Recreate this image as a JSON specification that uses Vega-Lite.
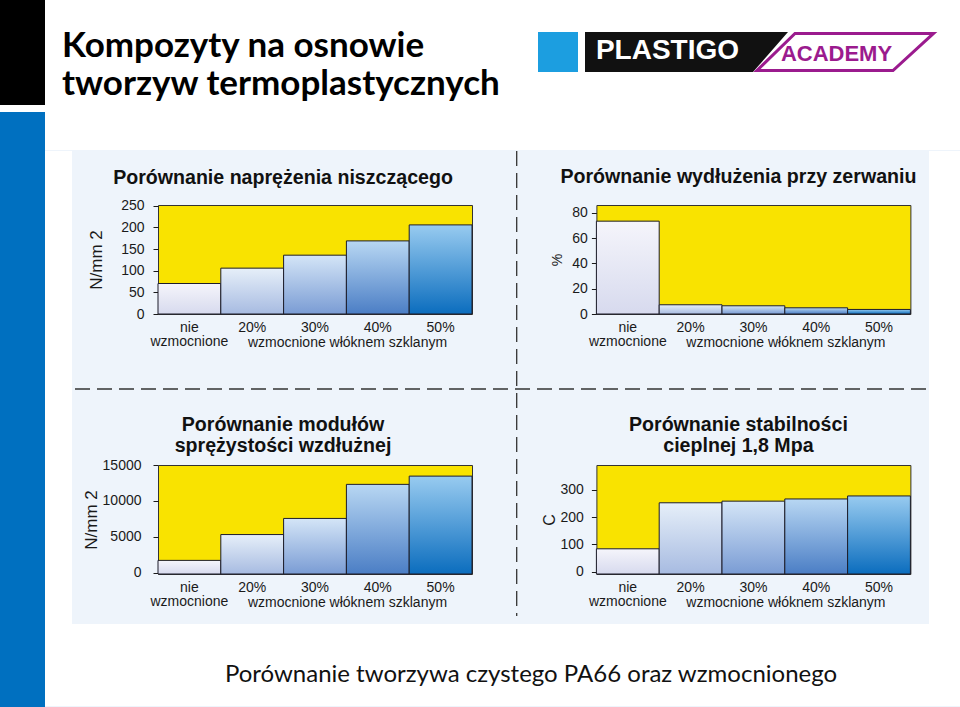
{
  "$schema": "https://vega.github.io/schema/vega-lite/v6.json",
  "background": "#eef4fb",
  "padding": 0,
  "config": {
    "view": {"stroke": null},
    "axis": {"grid": false, "domain": false, "labelFont": "Liberation Sans", "labelFontSize": 14, "labelColor": "#1a1a1a", "titleFont": "Liberation Sans", "titleColor": "#1a1a1a", "titleFontWeight": "normal", "tickColor": "#1a1a1a"},
    "axisX": {"ticks": false, "tickSize": 0, "labelAngle": 0, "labelPadding": 17.5, "labelBaseline": "alphabetic", "labelLineHeight": 13.5, "labelOverlap": false, "titleFontSize": 14, "titleAlign": "center", "titleBaseline": "alphabetic", "titleAngle": 0, "titleX": 189, "titleY": 32},
    "axisY": {"ticks": true, "tickSize": 5, "labelAlign": "right", "labelBaseline": "middle", "titleFontSize": 17, "titleAngle": 270, "titleAlign": "center", "titleBaseline": "alphabetic"},
    "title": {"font": "Liberation Sans", "fontSize": 19.6, "fontWeight": "bold", "color": "#111111", "anchor": "middle", "frame": "group", "lineHeight": 21.5},
    "bar": {"stroke": "#1d1d2b", "strokeWidth": 1}
  },
  "spacing": 0,
  "hconcat": [
    {
      "spacing": 0,
      "vconcat": [
        {"width": 45, "height": 105, "view": {"fill": "#000000", "stroke": null}, "data": {"values": [{}]}, "mark": {"type": "point", "opacity": 0}},
        {"width": 45, "height": 7, "view": {"fill": "#ffffff", "stroke": null}, "data": {"values": [{}]}, "mark": {"type": "point", "opacity": 0}},
        {"width": 45, "height": 595, "view": {"fill": "#0070c0", "stroke": null}, "data": {"values": [{}]}, "mark": {"type": "point", "opacity": 0}}
      ]
    },
    {
      "spacing": 0,
      "vconcat": [
        {
          "width": 915, "height": 150,
          "view": {"fill": "#ffffff", "stroke": null},
          "data": {"values": [{"a": "PLASTIGO", "b": "ACADEMY", "t": "Kompozyty na osnowie\ntworzyw termoplastycznych"}]},
          "layer": [
            {"mark": {"type": "text", "font": "Lato", "fontWeight": "bold", "fontSize": 35, "lineHeight": 38, "lineBreak": "\n", "align": "left", "baseline": "alphabetic", "color": "#000000", "dx": -440.5, "dy": -18}, "encoding": {"text": {"field": "t"}}},
            {"mark": {"type": "point", "shape": "M0.17884,-0.2167L0.38034,-0.2167L0.38034,-0.0151L0.17884,-0.0151Z", "size": 157609, "filled": true, "color": "#1c9ee0", "strokeWidth": 0, "opacity": 1}},
            {"mark": {"type": "point", "shape": "M0.41564,-0.2167L1.43824,-0.2167L1.26194,-0.0151L0.41564,-0.0151Z", "size": 157609, "filled": true, "color": "#111111", "strokeWidth": 0, "opacity": 1}},
            {"mark": {"type": "point", "shape": "M1.47354,-0.20917L2.17124,-0.20917L1.96724,-0.02267L1.28214,-0.02267Z", "size": 157609, "filled": true, "fill": "#ffffff", "stroke": "#9b1b8e", "strokeWidth": 3, "opacity": 1}},
            {"mark": {"type": "text", "font": "Liberation Sans", "fontWeight": "bold", "fontSize": 28, "color": "#ffffff", "align": "center", "baseline": "middle", "dx": 165, "dy": -24}, "encoding": {"text": {"field": "a"}}},
            {"mark": {"type": "text", "font": "Liberation Sans", "fontWeight": "bold", "fontSize": 22, "color": "#9b1b8e", "align": "center", "baseline": "middle", "dx": 334, "dy": -21}, "encoding": {"text": {"field": "b"}}}
          ]
        },
        {
          "spacing": 0,
          "hconcat": [
            {"width": 27, "height": 473, "view": {"fill": "#ffffff", "stroke": null}, "data": {"values": [{}]}, "mark": {"type": "point", "opacity": 0}},
            {
              "spacing": 54,
              "bounds": "flush",
              "vconcat": [
                {
                  "vconcat": [
                    {
                      "width": 853, "height": 473,
                      "data": {"values": [{}]},
                      "layer": [
                        {
                          "mark": {"type": "rule", "strokeDash": [15, 7], "color": "#333333", "strokeWidth": 1.3},
                          "encoding": {
                            "x": {"datum": 441.7, "type": "quantitative", "scale": {"domain": [0, 853], "nice": false, "zero": false}, "axis": null},
                            "y": {"datum": 0, "type": "quantitative", "scale": {"domain": [0, 473], "nice": false, "zero": false, "reverse": true}, "axis": null},
                            "y2": {"datum": 465}
                          }
                        },
                        {
                          "mark": {"type": "rule", "strokeDash": [15, 7], "color": "#333333", "strokeWidth": 1.3},
                          "encoding": {
                            "y": {"datum": 238, "type": "quantitative", "scale": {"domain": [0, 473], "nice": false, "zero": false, "reverse": true}, "axis": null},
                            "x": {"datum": 0, "type": "quantitative", "scale": {"domain": [0, 853], "nice": false, "zero": false}, "axis": null},
                            "x2": {"datum": 853}
                          }
                        }
                      ]
                    }
                  ]
                },
                {
                  "spacing": 83,
                  "bounds": "flush",
                  "hconcat": [
                    {"vconcat": [{"width": 1, "height": 1, "data": {"values": [{}]}, "mark": {"type": "point", "opacity": 0}}]},
                    {
                      "columns": 2,
                      "bounds": "flush",
                      "spacing": {"row": 151, "column": 124.4},
                      "concat": [
                        {
                          "width": 314, "height": 109,
                          "view": {"fill": "#f9e300", "stroke": "#333333", "strokeWidth": 1},
                          "title": {"text": "Porównanie naprężenia niszczącego", "dx": -32, "offset": 10},
                          "data": {"values": [
                            {"k": "nie wzmocnione", "v": 70.5},
                            {"k": "20%", "v": 106},
                            {"k": "30%", "v": 136},
                            {"k": "40%", "v": 169},
                            {"k": "50%", "v": 206}
                          ]},
                          "mark": {"type": "bar"},
                          "encoding": {
                            "x": {"field": "k", "type": "nominal", "sort": null, "scale": {"paddingInner": 0, "paddingOuter": 0}, "axis": {"title": "wzmocnione włóknem szklanym", "labelExpr": "datum.label == 'nie wzmocnione' ? ['nie', 'wzmocnione'] : datum.label"}},
                            "y": {"field": "v", "type": "quantitative", "scale": {"domain": [0, 252], "nice": false, "zero": false}, "axis": {"values": [0, 50, 100, 150, 200, 250], "title": "N/mm 2", "titleX": -57, "titleY": 54.5, "labelPadding": 9}},
                            "fill": {"condition": [
                              {"test": "datum.k == 'nie wzmocnione'", "value": {"gradient": "linear", "x1": 0, "y1": 0, "x2": 0, "y2": 1, "stops": [{"offset": 0, "color": "#f5f5fb"}, {"offset": 1, "color": "#d7daee"}]}},
                              {"test": "datum.k == '20%'", "value": {"gradient": "linear", "x1": 0, "y1": 0, "x2": 0, "y2": 1, "stops": [{"offset": 0, "color": "#e6eff9"}, {"offset": 1, "color": "#a7bbe1"}]}},
                              {"test": "datum.k == '30%'", "value": {"gradient": "linear", "x1": 0, "y1": 0, "x2": 0, "y2": 1, "stops": [{"offset": 0, "color": "#d4e5f7"}, {"offset": 1, "color": "#7a9cd4"}]}},
                              {"test": "datum.k == '40%'", "value": {"gradient": "linear", "x1": 0, "y1": 0, "x2": 0, "y2": 1, "stops": [{"offset": 0, "color": "#b8d7f3"}, {"offset": 1, "color": "#4b7ec5"}]}}
                            ], "value": {"gradient": "linear", "x1": 0, "y1": 0, "x2": 0, "y2": 1, "stops": [{"offset": 0, "color": "#98cbf0"}, {"offset": 1, "color": "#0b6dbe"}]}}
                          }
                        },
                        {
                          "width": 314, "height": 109,
                          "view": {"fill": "#f9e300", "stroke": "#333333", "strokeWidth": 1},
                          "title": {"text": "Porównanie wydłużenia przy zerwaniu", "dx": -15, "offset": 17},
                          "data": {"values": [
                            {"k": "nie wzmocnione", "v": 73.5},
                            {"k": "20%", "v": 7.3},
                            {"k": "30%", "v": 6.5},
                            {"k": "40%", "v": 4.9},
                            {"k": "50%", "v": 3.6}
                          ]},
                          "mark": {"type": "bar"},
                          "encoding": {
                            "x": {"field": "k", "type": "nominal", "sort": null, "scale": {"paddingInner": 0, "paddingOuter": 0}, "axis": {"title": "wzmocnione włóknem szklanym", "labelExpr": "datum.label == 'nie wzmocnione' ? ['nie', 'wzmocnione'] : datum.label"}},
                            "y": {"field": "v", "type": "quantitative", "scale": {"domain": [0, 86.3], "nice": false, "zero": false}, "axis": {"values": [0, 20, 40, 60, 80], "title": "%", "titleFontSize": 14, "titleX": -35, "titleY": 54.5, "labelPadding": 4}},
                            "fill": {"condition": [
                              {"test": "datum.k == 'nie wzmocnione'", "value": {"gradient": "linear", "x1": 0, "y1": 0, "x2": 0, "y2": 1, "stops": [{"offset": 0, "color": "#f5f5fb"}, {"offset": 1, "color": "#d7daee"}]}},
                              {"test": "datum.k == '20%'", "value": {"gradient": "linear", "x1": 0, "y1": 0, "x2": 0, "y2": 1, "stops": [{"offset": 0, "color": "#e6eff9"}, {"offset": 1, "color": "#a7bbe1"}]}},
                              {"test": "datum.k == '30%'", "value": {"gradient": "linear", "x1": 0, "y1": 0, "x2": 0, "y2": 1, "stops": [{"offset": 0, "color": "#d4e5f7"}, {"offset": 1, "color": "#7a9cd4"}]}},
                              {"test": "datum.k == '40%'", "value": {"gradient": "linear", "x1": 0, "y1": 0, "x2": 0, "y2": 1, "stops": [{"offset": 0, "color": "#b8d7f3"}, {"offset": 1, "color": "#4b7ec5"}]}}
                            ], "value": {"gradient": "linear", "x1": 0, "y1": 0, "x2": 0, "y2": 1, "stops": [{"offset": 0, "color": "#98cbf0"}, {"offset": 1, "color": "#0b6dbe"}]}}
                          }
                        },
                        {
                          "width": 314, "height": 109,
                          "view": {"fill": "#f9e300", "stroke": "#333333", "strokeWidth": 1},
                          "title": {"text": ["Porównanie modułów", "sprężystości wzdłużnej"], "dx": -32, "offset": 1},
                          "data": {"values": [
                            {"k": "nie wzmocnione", "v": 1700},
                            {"k": "20%", "v": 5300},
                            {"k": "30%", "v": 7550},
                            {"k": "40%", "v": 12300},
                            {"k": "50%", "v": 13450}
                          ]},
                          "mark": {"type": "bar"},
                          "encoding": {
                            "x": {"field": "k", "type": "nominal", "sort": null, "scale": {"paddingInner": 0, "paddingOuter": 0}, "axis": {"title": "wzmocnione włóknem szklanym", "labelExpr": "datum.label == 'nie wzmocnione' ? ['nie', 'wzmocnione'] : datum.label"}},
                            "y": {"field": "v", "type": "quantitative", "scale": {"domain": [-200, 15000], "nice": false, "zero": false}, "axis": {"values": [0, 5000, 10000, 15000], "format": "d", "title": "N/mm 2", "titleX": -62, "titleY": 54.5, "labelPadding": 12}},
                            "y2": {"datum": -200},
                            "fill": {"condition": [
                              {"test": "datum.k == 'nie wzmocnione'", "value": {"gradient": "linear", "x1": 0, "y1": 0, "x2": 0, "y2": 1, "stops": [{"offset": 0, "color": "#f5f5fb"}, {"offset": 1, "color": "#d7daee"}]}},
                              {"test": "datum.k == '20%'", "value": {"gradient": "linear", "x1": 0, "y1": 0, "x2": 0, "y2": 1, "stops": [{"offset": 0, "color": "#e6eff9"}, {"offset": 1, "color": "#a7bbe1"}]}},
                              {"test": "datum.k == '30%'", "value": {"gradient": "linear", "x1": 0, "y1": 0, "x2": 0, "y2": 1, "stops": [{"offset": 0, "color": "#d4e5f7"}, {"offset": 1, "color": "#7a9cd4"}]}},
                              {"test": "datum.k == '40%'", "value": {"gradient": "linear", "x1": 0, "y1": 0, "x2": 0, "y2": 1, "stops": [{"offset": 0, "color": "#b8d7f3"}, {"offset": 1, "color": "#4b7ec5"}]}}
                            ], "value": {"gradient": "linear", "x1": 0, "y1": 0, "x2": 0, "y2": 1, "stops": [{"offset": 0, "color": "#98cbf0"}, {"offset": 1, "color": "#0b6dbe"}]}}
                          }
                        },
                        {
                          "width": 314, "height": 109,
                          "view": {"fill": "#f9e300", "stroke": "#333333", "strokeWidth": 1},
                          "title": {"text": ["Porównanie stabilności", "cieplnej 1,8 Mpa"], "dx": -15, "offset": 8},
                          "data": {"values": [
                            {"k": "nie wzmocnione", "v": 84},
                            {"k": "20%", "v": 252},
                            {"k": "30%", "v": 258},
                            {"k": "40%", "v": 266},
                            {"k": "50%", "v": 277}
                          ]},
                          "mark": {"type": "bar"},
                          "encoding": {
                            "x": {"field": "k", "type": "nominal", "sort": null, "scale": {"paddingInner": 0, "paddingOuter": 0}, "axis": {"title": "wzmocnione włóknem szklanym", "labelExpr": "datum.label == 'nie wzmocnione' ? ['nie', 'wzmocnione'] : datum.label"}},
                            "y": {"field": "v", "type": "quantitative", "scale": {"domain": [-8, 390], "nice": false, "zero": false}, "axis": {"values": [0, 100, 200, 300], "title": "C", "titleFontSize": 16, "titleX": -42, "titleY": 54.5, "labelPadding": 8}},
                            "y2": {"datum": -8},
                            "fill": {"condition": [
                              {"test": "datum.k == 'nie wzmocnione'", "value": {"gradient": "linear", "x1": 0, "y1": 0, "x2": 0, "y2": 1, "stops": [{"offset": 0, "color": "#f5f5fb"}, {"offset": 1, "color": "#d7daee"}]}},
                              {"test": "datum.k == '20%'", "value": {"gradient": "linear", "x1": 0, "y1": 0, "x2": 0, "y2": 1, "stops": [{"offset": 0, "color": "#e6eff9"}, {"offset": 1, "color": "#a7bbe1"}]}},
                              {"test": "datum.k == '30%'", "value": {"gradient": "linear", "x1": 0, "y1": 0, "x2": 0, "y2": 1, "stops": [{"offset": 0, "color": "#d4e5f7"}, {"offset": 1, "color": "#7a9cd4"}]}},
                              {"test": "datum.k == '40%'", "value": {"gradient": "linear", "x1": 0, "y1": 0, "x2": 0, "y2": 1, "stops": [{"offset": 0, "color": "#b8d7f3"}, {"offset": 1, "color": "#4b7ec5"}]}}
                            ], "value": {"gradient": "linear", "x1": 0, "y1": 0, "x2": 0, "y2": 1, "stops": [{"offset": 0, "color": "#98cbf0"}, {"offset": 1, "color": "#0b6dbe"}]}}
                          }
                        }
                      ]
                    }
                  ]
                }
              ]
            },
            {"width": 32, "height": 473, "view": {"fill": "#ffffff", "stroke": null}, "data": {"values": [{}]}, "mark": {"type": "point", "opacity": 0}}
          ]
        },
        {
          "spacing": 0,
          "vconcat": [
            {
              "width": 915, "height": 82,
              "view": {"fill": "#ffffff", "stroke": null},
              "data": {"values": [{"t": "Porównanie tworzywa czystego PA66 oraz wzmocnionego"}]},
              "mark": {"type": "text", "font": "Lato", "fontSize": 24, "color": "#111111", "align": "center", "baseline": "alphabetic", "dx": 28.5, "dy": 17},
              "encoding": {"text": {"field": "t"}}
            },
            {"width": 915, "height": 2, "view": {"fill": "#0070c0", "stroke": null}, "data": {"values": [{}]}, "mark": {"type": "point", "opacity": 0}}
          ]
        }
      ]
    }
  ]
}
